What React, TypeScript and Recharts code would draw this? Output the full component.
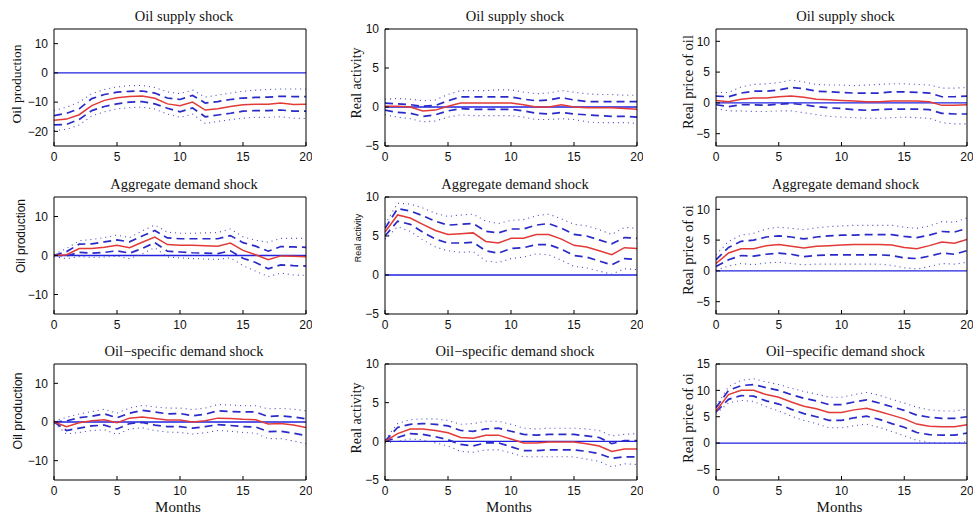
import React from 'react';
import { LineChart, Line, XAxis, YAxis, ReferenceLine } from 'recharts';

const months = [0, 1, 2, 3, 4, 5, 6, 7, 8, 9, 10, 11, 12, 13, 14, 15, 16, 17, 18, 19, 20];
const xTicks = [0, 5, 10, 15, 20];

// Panel 1: Oil supply shock -> Oil production
const p1Med = [-16.2, -15.8, -14.3, -11.2, -9.4, -8.5, -8.1, -7.9, -8.7, -10.6, -11.2, -10.0, -12.7, -12.3, -11.5, -10.9, -10.7, -10.7, -10.3, -10.8, -10.7];
const p1Up1 = [-14.6, -13.8, -12.3, -8.8, -7.4, -6.6, -6.3, -6.2, -6.9, -8.6, -9.1, -7.7, -10.3, -9.8, -9.1, -8.6, -8.4, -8.3, -8.0, -8.1, -8.1];
const p1Lo1 = [-17.8, -17.6, -15.9, -12.9, -11.5, -10.6, -10.0, -9.8, -10.6, -12.1, -13.3, -12.0, -15.0, -14.4, -13.8, -13.1, -12.9, -12.9, -12.7, -13.1, -13.1];
const p1Up2 = [-12.9, -11.7, -10.0, -7.1, -5.7, -4.8, -4.4, -4.3, -5.0, -6.5, -7.1, -5.9, -8.3, -7.6, -6.9, -6.3, -5.9, -5.7, -5.5, -5.5, -5.5];
const p1Lo2 = [-19.7, -19.3, -17.8, -14.7, -13.3, -12.3, -11.9, -11.7, -12.4, -14.1, -15.2, -14.1, -17.3, -16.6, -16.0, -15.5, -15.2, -15.2, -15.0, -15.5, -15.6];

// Panel 2: Oil supply shock -> Real activity
const p2Med = [0.1, 0.1, 0.0, -0.5, -0.4, 0.1, 0.5, 0.5, 0.5, 0.5, 0.5, 0.3, 0.0, 0.0, 0.3, 0.0, -0.1, -0.1, -0.1, -0.2, -0.3];
const p2Up1 = [0.5, 0.4, 0.3, 0.1, 0.2, 0.8, 1.3, 1.3, 1.3, 1.3, 1.3, 1.0, 0.8, 0.9, 1.2, 0.9, 0.7, 0.7, 0.7, 0.7, 0.7];
const p2Lo1 = [-0.4, -0.7, -0.8, -1.2, -1.0, -0.5, -0.2, -0.3, -0.3, -0.3, -0.3, -0.5, -0.8, -0.9, -0.7, -0.9, -1.0, -1.1, -1.2, -1.2, -1.3];
const p2Up2 = [1.0, 1.1, 1.0, 0.8, 0.9, 1.6, 2.1, 2.1, 2.1, 2.2, 2.2, 1.9, 1.7, 1.8, 2.1, 1.9, 1.7, 1.6, 1.6, 1.5, 1.5];
const p2Lo2 = [-1.0, -1.3, -1.5, -1.9, -1.8, -1.3, -1.0, -1.1, -1.1, -1.1, -1.1, -1.3, -1.6, -1.6, -1.5, -1.6, -1.9, -2.0, -2.0, -2.0, -2.1];

// Panel 3: Oil supply shock -> Real price of oil
const p3Med = [0.4, 0.2, 0.6, 0.8, 0.8, 1.0, 1.1, 0.9, 0.6, 0.5, 0.4, 0.3, 0.2, 0.2, 0.3, 0.3, 0.3, 0.2, -0.4, -0.4, -0.3];
const p3Up1 = [1.1, 1.0, 1.6, 1.9, 1.9, 2.1, 2.5, 2.3, 1.9, 1.8, 1.7, 1.6, 1.6, 1.6, 1.8, 1.8, 1.7, 1.6, 1.0, 1.0, 1.1];
const p3Lo1 = [-0.3, -0.6, -0.3, -0.3, -0.4, -0.2, -0.1, -0.3, -0.6, -0.8, -0.9, -1.1, -1.2, -1.1, -1.0, -1.0, -1.0, -1.1, -1.7, -1.8, -1.8];
const p3Up2 = [1.7, 1.7, 2.6, 3.0, 3.1, 3.3, 3.7, 3.4, 3.0, 2.9, 2.9, 2.8, 2.9, 3.0, 3.1, 3.1, 3.0, 2.9, 2.4, 2.4, 2.5];
const p3Lo2 = [-0.9, -1.3, -1.3, -1.4, -1.4, -1.3, -1.3, -1.6, -1.9, -2.2, -2.3, -2.4, -2.5, -2.5, -2.4, -2.3, -2.4, -2.5, -3.2, -3.4, -3.4];

// Panel 4: Aggregate demand shock -> Oil production
const p4Med = [0.0, 0.2, 1.8, 1.8, 2.1, 2.6, 2.0, 3.4, 4.7, 2.8, 2.6, 2.6, 2.5, 2.4, 3.2, 1.3, 0.2, -1.1, -0.1, -0.2, -0.3];
const p4Up1 = [0.0, 1.0, 2.9, 3.0, 3.5, 4.0, 3.5, 5.0, 6.4, 4.5, 4.3, 4.3, 4.3, 4.3, 5.1, 3.3, 2.4, 1.1, 2.3, 2.2, 2.1];
const p4Lo1 = [0.0, -0.1, 0.8, 0.6, 0.8, 1.2, 0.6, 1.8, 3.3, 1.1, 0.9, 0.7, 0.6, 0.5, 1.2, -0.7, -1.8, -3.4, -2.4, -2.6, -2.7];
const p4Up2 = [0.3, 1.8, 3.8, 4.1, 4.6, 5.2, 4.6, 6.3, 7.8, 6.0, 5.7, 5.7, 5.8, 5.9, 6.8, 4.8, 3.9, 3.4, 4.4, 4.4, 4.4];
const p4Lo2 = [-0.3, -0.8, -0.3, -0.5, -0.4, -0.2, -0.8, 0.4, 2.0, -0.4, -0.6, -0.8, -0.9, -1.0, -0.6, -2.6, -4.0, -5.4, -4.5, -5.0, -5.1];

// Panel 5: Aggregate demand shock -> Real activity
const p5Med = [5.5, 7.7, 7.3, 6.5, 5.7, 5.2, 5.3, 5.4, 4.3, 4.1, 4.7, 4.7, 5.2, 5.2, 4.6, 3.8, 3.6, 3.1, 2.6, 3.5, 3.4];
const p5Up1 = [6.0, 8.5, 8.2, 7.6, 6.9, 6.4, 6.5, 6.6, 5.6, 5.4, 5.9, 5.9, 6.4, 6.6, 6.0, 5.2, 5.0, 4.5, 4.0, 4.8, 4.7];
const p5Lo1 = [5.0, 6.9, 6.5, 5.5, 4.6, 4.1, 4.1, 4.2, 3.1, 2.8, 3.4, 3.5, 3.9, 3.9, 3.3, 2.5, 2.3, 1.8, 1.3, 2.1, 2.0];
const p5Up2 = [6.5, 9.2, 9.1, 8.6, 7.9, 7.5, 7.7, 7.8, 6.9, 6.6, 7.0, 7.1, 7.6, 7.8, 7.2, 6.5, 6.3, 5.8, 5.2, 6.1, 6.0];
const p5Lo2 = [4.6, 6.2, 5.6, 4.5, 3.6, 3.1, 2.9, 3.0, 1.8, 1.6, 2.1, 2.3, 2.7, 2.6, 1.9, 1.1, 0.9, 0.5, 0.1, 0.8, 0.7];

// Panel 6: Aggregate demand shock -> Real price of oil
const p6Med = [1.2, 2.9, 3.6, 3.6, 4.1, 4.3, 4.0, 3.7, 4.0, 4.1, 4.2, 4.3, 4.3, 4.3, 4.2, 3.8, 3.6, 4.1, 4.7, 4.5, 5.1];
const p6Up1 = [1.8, 3.8, 4.8, 5.0, 5.5, 5.7, 5.5, 5.2, 5.5, 5.7, 5.8, 5.8, 5.9, 5.9, 5.9, 5.6, 5.4, 5.8, 6.4, 6.3, 6.9];
const p6Lo1 = [0.7, 1.8, 2.5, 2.4, 2.7, 2.9, 2.7, 2.3, 2.5, 2.6, 2.6, 2.6, 2.6, 2.6, 2.5, 2.1, 2.0, 2.4, 2.9, 2.7, 3.3];
const p6Up2 = [2.6, 4.8, 5.8, 6.1, 6.8, 7.1, 6.9, 6.7, 7.0, 7.2, 7.3, 7.4, 7.4, 7.4, 7.4, 7.1, 6.9, 7.3, 8.0, 7.9, 8.6];
const p6Lo2 = [0.1, 0.8, 1.2, 1.0, 1.3, 1.4, 1.2, 1.0, 1.1, 1.1, 1.1, 1.1, 1.1, 1.1, 0.9, 0.5, 0.3, 0.7, 1.2, 1.1, 1.4];

// Panel 7: Oil-specific demand shock -> Oil production
const p7Med = [0.0, -1.2, -0.2, 0.3, 0.6, -0.2, 1.0, 1.3, 0.9, 0.5, 0.5, 0.0, 0.3, 1.0, 0.9, 0.7, 0.6, -0.5, -0.4, -0.8, -1.4];
const p7Up1 = [0.0, 0.3, 1.1, 1.5, 2.1, 1.1, 2.3, 3.0, 2.6, 2.1, 2.2, 1.6, 2.0, 2.9, 2.7, 2.6, 2.6, 1.4, 1.6, 1.3, 0.8];
const p7Lo1 = [0.0, -2.2, -1.6, -1.0, -0.8, -1.8, -0.4, -0.1, -0.8, -1.2, -1.2, -1.6, -1.2, -0.7, -0.9, -1.2, -1.3, -2.5, -2.4, -2.9, -3.5];
const p7Up2 = [0.3, 1.2, 2.1, 2.7, 3.3, 2.3, 3.6, 4.3, 3.9, 3.6, 3.6, 3.2, 3.6, 4.5, 4.4, 4.2, 4.2, 3.4, 3.5, 3.3, 2.9];
const p7Lo2 = [-0.3, -3.1, -2.7, -2.2, -2.0, -3.2, -1.8, -1.5, -2.2, -2.6, -2.7, -3.1, -2.8, -2.2, -2.4, -2.7, -2.9, -4.3, -4.3, -4.9, -5.6];

// Panel 8: Oil-specific demand shock -> Real activity
const p8Med = [0.0, 1.0, 1.6, 1.6, 1.4, 1.1, 0.5, 0.4, 0.8, 0.8, 0.3, -0.2, -0.2, -0.1, -0.1, -0.1, -0.3, -0.6, -1.3, -1.0, -1.0];
const p8Up1 = [0.0, 1.8, 2.2, 2.3, 2.2, 2.0, 1.4, 1.3, 1.6, 1.7, 1.3, 0.9, 0.8, 0.9, 0.9, 0.9, 0.7, 0.5, -0.3, 0.1, 0.1];
const p8Lo1 = [0.0, 0.5, 1.0, 0.9, 0.6, 0.2, -0.4, -0.6, -0.2, -0.2, -0.7, -1.2, -1.2, -1.1, -1.1, -1.1, -1.3, -1.6, -2.2, -2.0, -2.0];
const p8Up2 = [0.2, 2.3, 2.8, 2.9, 2.9, 2.7, 2.2, 2.3, 2.6, 2.6, 2.2, 1.7, 1.6, 1.7, 1.7, 1.7, 1.6, 1.4, 0.7, 0.9, 1.0];
const p8Lo2 = [-0.2, 0.0, 0.3, 0.2, -0.2, -0.6, -1.3, -1.4, -1.1, -1.1, -1.5, -2.0, -2.0, -2.0, -2.0, -2.0, -2.3, -2.6, -3.3, -2.9, -3.0];

// Panel 9: Oil-specific demand shock -> Real price of oil
const p9Med = [6.1, 9.2, 10.0, 10.0, 9.2, 8.7, 7.8, 7.0, 6.5, 5.8, 5.8, 6.3, 6.6, 6.0, 5.3, 4.6, 3.6, 3.2, 3.1, 3.1, 3.5];
const p9Up1 = [6.7, 10.0, 10.9, 11.1, 10.5, 10.0, 9.2, 8.5, 8.0, 7.3, 7.3, 7.8, 8.2, 7.6, 6.9, 6.2, 5.3, 4.9, 4.7, 4.7, 5.0];
const p9Lo1 = [5.9, 8.3, 9.0, 8.9, 8.0, 7.4, 6.4, 5.6, 5.0, 4.3, 4.3, 4.8, 5.1, 4.5, 3.7, 3.0, 2.0, 1.6, 1.5, 1.5, 1.9];
const p9Up2 = [7.0, 10.7, 11.9, 12.2, 11.6, 11.1, 10.4, 9.8, 9.3, 8.7, 8.7, 9.2, 9.6, 9.1, 8.3, 7.6, 6.8, 6.3, 6.1, 6.1, 6.4];
const p9Lo2 = [5.6, 7.6, 8.1, 7.9, 6.9, 6.1, 5.1, 4.3, 3.7, 2.9, 2.9, 3.3, 3.6, 3.0, 2.2, 1.4, 0.5, 0.1, 0.0, 0.0, 0.3];

const titles = ['Oil supply shock', 'Aggregate demand shock', 'Oil\u2212specific demand shock'];
const ylabelsRow1 = ['Oil production', 'Real activity', 'Real price of oil'];
const ylabelsRow2 = ['Oil production', 'Real activity', 'Real price of oi'];
const ylabelsRow3 = ['Oil production', 'Real activity', 'Real price of oi'];

const ticksProd1 = [-20, -10, 0, 10];
const ticksProd = [-10, 0, 10];
const ticksAct = [-5, 0, 5, 10];
const ticksPrice = [-5, 0, 5, 10];
const ticksPrice9 = [-5, 0, 5, 10, 15];

const SERIF = '"Liberation Serif", "DejaVu Serif", serif';
const SANS = '"Liberation Sans", Arial, sans-serif';

const colL = [54, 385, 716];
const colW = [252, 252, 251];
const rowT = [29, 197, 364];
const rowH = [117, 117, 116];

type PanelCfg = {
  row: number;
  col: number;
  title: string;
  ylabel: string;
  yFont: string;
  ySize: number;
  yx: number;
  yy: number;
  domain: [number, number];
  ticks: number[];
  med: number[];
  up1: number[];
  lo1: number[];
  up2: number[];
  lo2: number[];
};

const panels: PanelCfg[] = [
  { row: 0, col: 0, title: titles[0], ylabel: ylabelsRow1[0], yFont: SERIF, ySize: 13.5, yx: 17, yy: 84, domain: [-25, 15], ticks: ticksProd1, med: p1Med, up1: p1Up1, lo1: p1Lo1, up2: p1Up2, lo2: p1Lo2 },
  { row: 0, col: 1, title: titles[0], ylabel: ylabelsRow1[1], yFont: SERIF, ySize: 14, yx: 357, yy: 83, domain: [-5, 10], ticks: ticksAct, med: p2Med, up1: p2Up1, lo1: p2Lo1, up2: p2Up2, lo2: p2Lo2 },
  { row: 0, col: 2, title: titles[0], ylabel: ylabelsRow1[2], yFont: SERIF, ySize: 14.5, yx: 688, yy: 82, domain: [-7, 12], ticks: ticksPrice, med: p3Med, up1: p3Up1, lo1: p3Lo1, up2: p3Up2, lo2: p3Lo2 },
  { row: 1, col: 0, title: titles[1], ylabel: ylabelsRow2[0], yFont: SANS, ySize: 12, yx: 21, yy: 236, domain: [-15, 15], ticks: ticksProd, med: p4Med, up1: p4Up1, lo1: p4Lo1, up2: p4Up2, lo2: p4Lo2 },
  { row: 1, col: 1, title: titles[1], ylabel: ylabelsRow2[1], yFont: SANS, ySize: 9, yx: 358, yy: 238, domain: [-5, 10], ticks: ticksAct, med: p5Med, up1: p5Up1, lo1: p5Lo1, up2: p5Up2, lo2: p5Lo2 },
  { row: 1, col: 2, title: titles[1], ylabel: ylabelsRow2[2], yFont: SERIF, ySize: 14.5, yx: 688, yy: 250, domain: [-7, 12], ticks: ticksPrice, med: p6Med, up1: p6Up1, lo1: p6Lo1, up2: p6Up2, lo2: p6Lo2 },
  { row: 2, col: 0, title: titles[2], ylabel: ylabelsRow3[0], yFont: SANS, ySize: 12.5, yx: 18, yy: 411, domain: [-15, 15], ticks: ticksProd, med: p7Med, up1: p7Up1, lo1: p7Lo1, up2: p7Up2, lo2: p7Lo2 },
  { row: 2, col: 1, title: titles[2], ylabel: ylabelsRow3[1], yFont: SERIF, ySize: 14, yx: 357, yy: 418, domain: [-5, 10], ticks: ticksAct, med: p8Med, up1: p8Up1, lo1: p8Lo1, up2: p8Up2, lo2: p8Lo2 },
  { row: 2, col: 2, title: titles[2], ylabel: ylabelsRow3[2], yFont: SERIF, ySize: 14.5, yx: 688, yy: 418, domain: [-7, 15], ticks: ticksPrice9, med: p9Med, up1: p9Up1, lo1: p9Lo1, up2: p9Up2, lo2: p9Lo2 },
];

const RED = '#e23a36';
const BLUE = '#2a2ac8';
const ZERO = '#2222e0';
const DOT = '#4a4ac0';

const fmt = (v: number) => String(v).replace('-', '\u2212');

const ML = 45;
const MT = 6;
const MR = 6;
const XH = 22;

function Panel({ p }: { p: PanelCfg }) {
  const L = colL[p.col];
  const W = colW[p.col];
  const T = rowT[p.row];
  const H = rowH[p.row];
  const data = months.map((m, i) => ({ m, med: p.med[i], up1: p.up1[i], lo1: p.lo1[i], up2: p.up2[i], lo2: p.lo2[i] }));
  const tickStyle = { fill: '#111', fontSize: 12, fontFamily: SANS };
  return (
    <>
      <div style={{ position: 'absolute', left: L - ML, top: T - MT }}>
        <LineChart width={W + ML + MR} height={H + MT + XH} data={data} margin={{ top: MT, right: MR, bottom: 0, left: 0 }}>
          <XAxis dataKey="m" type="number" domain={[0, 20]} ticks={xTicks} interval={0} height={XH}
            tickSize={-4} tickMargin={10} axisLine={{ stroke: '#000' }} tickLine={{ stroke: '#000' }} tick={tickStyle} tickFormatter={fmt} allowDataOverflow />
          <XAxis xAxisId="top" orientation="top" mirror type="number" domain={[0, 20]} ticks={xTicks} interval={0}
            tick={false} tickSize={4} axisLine={{ stroke: '#000' }} tickLine={{ stroke: '#000' }} height={1} allowDataOverflow />
          <YAxis type="number" domain={p.domain} ticks={p.ticks} interval={0} width={ML}
            tickSize={-4} tickMargin={10} axisLine={{ stroke: '#000' }} tickLine={{ stroke: '#000' }} tick={tickStyle} tickFormatter={fmt} allowDataOverflow />
          <YAxis yAxisId="right" orientation="right" mirror type="number" domain={p.domain} ticks={p.ticks} interval={0}
            tick={false} tickSize={4} axisLine={{ stroke: '#000' }} tickLine={{ stroke: '#000' }} width={1} allowDataOverflow />
          <ReferenceLine y={0} stroke={ZERO} strokeWidth={1.3} />
          <Line dataKey="up2" type="linear" stroke={DOT} strokeWidth={1.1} strokeDasharray="1 4" dot={false} isAnimationActive={false} />
          <Line dataKey="lo2" type="linear" stroke={DOT} strokeWidth={1.1} strokeDasharray="1 4" dot={false} isAnimationActive={false} />
          <Line dataKey="up1" type="linear" stroke={BLUE} strokeWidth={1.7} strokeDasharray="8 5" dot={false} isAnimationActive={false} />
          <Line dataKey="lo1" type="linear" stroke={BLUE} strokeWidth={1.7} strokeDasharray="8 5" dot={false} isAnimationActive={false} />
          <Line dataKey="med" type="linear" stroke={RED} strokeWidth={1.5} dot={false} isAnimationActive={false} />
        </LineChart>
      </div>
      <div style={{ position: 'absolute', left: L + W / 2 + 4, top: T - 13, transform: 'translate(-50%, -50%)', fontFamily: SERIF, fontSize: 14.5, lineHeight: 1, color: '#111', whiteSpace: 'nowrap' }}>
        {p.title}
      </div>
      <div style={{ position: 'absolute', left: p.yx, top: p.yy, transform: 'translate(-50%, -50%) rotate(-90deg)', fontFamily: p.yFont, fontSize: p.ySize, lineHeight: 1, color: '#111', whiteSpace: 'nowrap' }}>
        {p.ylabel}
      </div>
      {p.row === 2 && (
        <div style={{ position: 'absolute', left: L + W / 2 - 2, top: 507, transform: 'translate(-50%, -50%)', fontFamily: SERIF, fontSize: 15, lineHeight: 1, color: '#111', whiteSpace: 'nowrap' }}>
          Months
        </div>
      )}
    </>
  );
}

export default function App() {
  return (
    <div style={{ position: 'absolute', left: 0, top: 0, width: 975, height: 516, background: '#fff', overflow: 'hidden' }}>
      {panels.map((p, i) => (
        <Panel key={i} p={p} />
      ))}
    </div>
  );
}
